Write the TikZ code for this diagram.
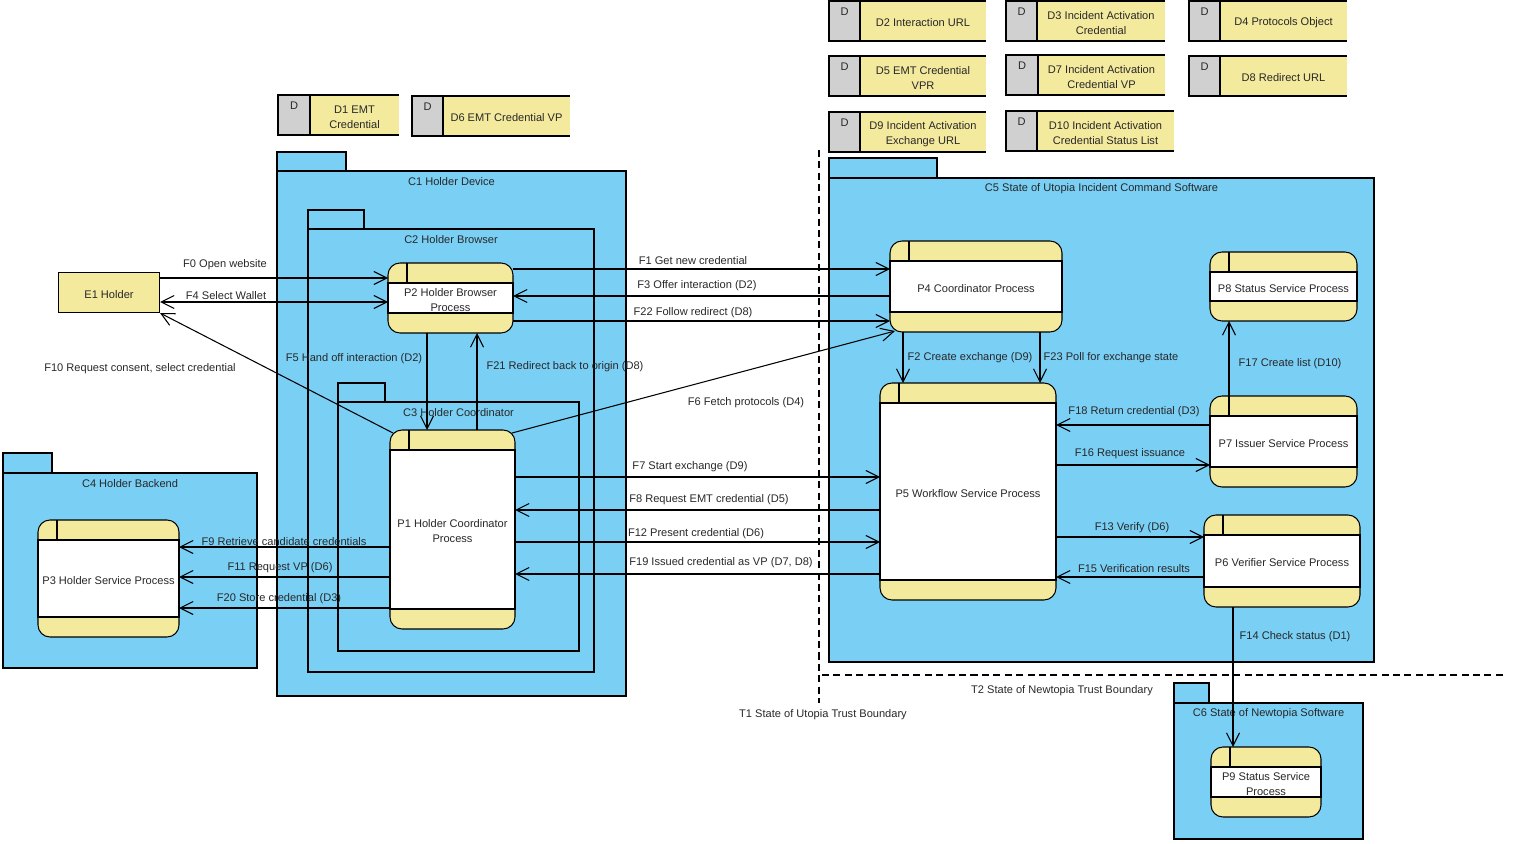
\documentclass[tikz,border=0pt]{standalone}
\usepackage{fontspec}
\setmainfont{Liberation Sans}
\usetikzlibrary{arrows.meta}
\definecolor{dfblue}{RGB}{122,207,245}
\definecolor{dfyel}{RGB}{244,234,158}
\definecolor{dfgray}{RGB}{208,208,208}
\definecolor{dftxt}{RGB}{40,40,40}
\newcommand\dffont{\fontsize{6.3}{8.5}\selectfont}
% process: name, x1, y1, x2, y2, text
\newcommand\proc[6]{%
  \node[pbox, minimum width={(#4-#2)*0.02cm}, minimum height={(#5-#3)*0.02cm}] (#1) at ({(#2+#4)/2},{(#3+#5)/2}) {};
  \draw[fill=white] (#2,#3+20) rectangle (#4,#5-20);
  \draw (#2+19,#3) -- (#2+19,#3+20);
  \node[lbl] (#1t) at (#1.center) {#6};
}
% container: name, x1, ytab, xtab, ytop, x2, y2, label
\newcommand\cont[8]{%
  \draw[contst] (#2,#3) rectangle (#4,#5);
  \draw[contst] (#2,#5) rectangle (#6,#7);
  \node[lbl] (#1) at ({(#2+#6)/2},#5+9) {#8};
}
% data store: name, x1, x2, x3, y1, y2, text
\newcommand\dstore[7]{%
  \fill[dfyel] (#3,#5) rectangle (#4,#6);
  \draw (#3,#5) -- (#4,#5) (#3,#6) -- (#4,#6);
  \draw[fill=dfgray] (#2,#5) rectangle (#3,#6);
  \node[lbl] (#1d) at ({(#2+#3)/2},#5+9) {D};
  \node[lbl] (#1) at ({(#3+#4)/2},{(#5+#6)/2}) {#7};
}
\begin{document}
\begin{tikzpicture}[x=0.02cm,y=-0.02cm,line width=0.6pt,
  font=\dffont,
  lbl/.style={inner sep=0pt,align=center,text=dftxt,yshift=-1.1pt},
  pbox/.style={draw,fill=dfyel,rounded corners=2.4mm,inner sep=0pt,outer sep=0pt},
  contst/.style={draw,fill=dfblue},
  flow/.style={draw,->},
  tb/.style={draw,dash pattern=on 4pt off 2.5pt},
  >={Straight Barb[length=2.6mm,width=2.6mm]}]
\useasboundingbox (0,0) rectangle (1514,844);

% data stores
\dstore{D1}{278}{310}{399}{95}{135}{D1 EMT\\Credential}
\dstore{D6}{412}{443}{570}{96}{136}{D6 EMT Credential VP}
\dstore{D2}{829}{860}{986}{1}{41}{D2 Interaction URL}
\dstore{D3}{1006}{1037}{1165}{1}{41}{D3 Incident Activation\\Credential}
\dstore{D4}{1189}{1220}{1347}{1}{41}{D4 Protocols Object}
\dstore{D5}{829}{860}{986}{56}{96}{D5 EMT Credential\\VPR}
\dstore{D7}{1006}{1038}{1165}{55}{95}{D7 Incident Activation\\Credential VP}
\dstore{D8}{1189}{1220}{1347}{56}{96}{D8 Redirect URL}
\dstore{D9}{829}{860}{986}{112}{152}{D9 Incident Activation\\Exchange URL}
\dstore{D10}{1006}{1037}{1174}{111}{151}{D10 Incident Activation\\Credential Status List}

% containers
\cont{C1}{277}{152}{346}{171}{626}{696}{C1 Holder Device}
\cont{C2}{308}{210}{364}{229}{594}{672}{C2 Holder Browser}
\cont{C3}{338}{383}{385}{402}{579}{651}{C3 Holder Coordinator}
\cont{C4}{3}{453}{52}{473}{257}{668}{C4 Holder Backend}
\cont{C5}{829}{158}{937}{178}{1374}{662}{C5 State of Utopia Incident Command Software}
\cont{C6}{1174}{683}{1209}{703}{1363}{839}{C6 State of Newtopia Software}

% trust boundaries
\coordinate (T1a) at (819,150);
\coordinate (T1b) at (819,703);
\coordinate (T2a) at (822,675);
\coordinate (T2b) at (1505,675);
\draw[tb] (T1a) -- (T1b);
\draw[tb] (T2a) -- (T2b);
\node[lbl] (T1) at (823,713) {T1 State of Utopia Trust Boundary};
\node[lbl] (T2) at (1062,689) {T2 State of Newtopia Trust Boundary};

% external entity
\node[draw,fill=dfyel,inner sep=0pt,minimum width={101*0.02cm},minimum height={40*0.02cm}] (E1) at (109,292.5) {};
\node[lbl] (E1t) at (E1.center) {E1 Holder};

% processes
\proc{P2}{388}{263}{513}{333}{P2 Holder Browser\\Process}
\proc{P4}{890}{241}{1062}{332}{P4 Coordinator Process}
\proc{P8}{1210}{252}{1357}{321}{P8 Status Service Process}
\proc{P5}{880}{383}{1056}{600}{P5 Workflow Service Process}
\proc{P7}{1210}{396}{1357}{487}{P7 Issuer Service Process}
\proc{P6}{1204}{515}{1360}{607}{P6 Verifier Service Process}
\proc{P1}{390}{430}{515}{629}{P1 Holder Coordinator\\Process}
\proc{P3}{38}{520}{179}{637}{P3 Holder Service Process}
\proc{P9}{1211}{747}{1321}{817}{P9 Status Service\\Process}

% flows
\draw[flow] (E1.east |- 0,278) -- (P2.west |- 0,278);
\draw[flow,<->] (E1.east |- 0,302) -- (P2.west |- 0,302);
\draw[flow] ([shift={(3,3)}]P1.north west) -- (E1.south east);
\draw[flow] (P2.east |- 0,269) -- (P4.west |- 0,269);
\draw[flow] (P4.west |- 0,296) -- (P2.east |- 0,296);
\draw[flow] (P2.east |- 0,321) -- (P4.west |- 0,321);
\draw[flow] ([shift={(-3,3)}]P1.north east) -- ([shift={(5,-1)}]P4.south west);
\draw[flow] (427,0 |- P2.south) -- (427,0 |- P1.north);
\draw[flow] (477,0 |- P1.north) -- (477,0 |- P2.south);
\draw[flow] (903,0 |- P4.south) -- (903,0 |- P5.north);
\draw[flow] (1040,0 |- P4.south) -- (1040,0 |- P5.north);
\draw[flow] (1229,0 |- P7.north) -- (1229,0 |- P8.south);
\draw[flow] (1233,0 |- P6.south) -- (1233,0 |- P9.north);
\draw[flow] (P1.east |- 0,477) -- (P5.west |- 0,477);
\draw[flow] (P5.west |- 0,510) -- (P1.east |- 0,510);
\draw[flow] (P1.east |- 0,542) -- (P5.west |- 0,542);
\draw[flow] (P5.west |- 0,574) -- (P1.east |- 0,574);
\draw[flow] (P1.west |- 0,547) -- (P3.east |- 0,547);
\draw[flow] (P1.west |- 0,577) -- (P3.east |- 0,577);
\draw[flow] (P1.west |- 0,608) -- (P3.east |- 0,608);
\draw[flow] (P7.west |- 0,425) -- (P5.east |- 0,425);
\draw[flow] (P5.east |- 0,465) -- (P7.west |- 0,465);
\draw[flow] (P5.east |- 0,537) -- (P6.west |- 0,537);
\draw[flow] (P6.west |- 0,577) -- (P5.east |- 0,577);

% flow labels
\node[lbl] (L0) at (225,263) {F0 Open website};
\node[lbl] (L4) at (226,294) {F4 Select Wallet};
\node[lbl] (L10) at (140,367) {F10 Request consent, select credential};
\node[lbl] (L5) at (354,357) {F5 Hand off interaction (D2)};
\node[lbl] (L21) at (565,365) {F21 Redirect back to origin (D8)};
\node[lbl] (L1) at (693,259) {F1 Get new credential};
\node[lbl] (L3) at (697,284) {F3 Offer interaction (D2)};
\node[lbl] (L22) at (693,311) {F22 Follow redirect (D8)};
\node[lbl] (L6) at (746,401) {F6 Fetch protocols (D4)};
\node[lbl] (L2) at (970,356) {F2 Create exchange (D9)};
\node[lbl] (L23) at (1111,356) {F23 Poll for exchange state};
\node[lbl] (L17) at (1290,362) {F17 Create list (D10)};
\node[lbl] (L18) at (1134,410) {F18 Return credential (D3)};
\node[lbl] (L16) at (1130,452) {F16 Request issuance};
\node[lbl] (L7) at (690,465) {F7 Start exchange (D9)};
\node[lbl] (L8) at (709,498) {F8 Request EMT credential (D5)};
\node[lbl] (L12) at (696,532) {F12 Present credential (D6)};
\node[lbl] (L19) at (721,561) {F19 Issued credential as VP (D7, D8)};
\node[lbl] (L13) at (1132,526) {F13 Verify (D6)};
\node[lbl] (L15) at (1134,567) {F15 Verification results};
\node[lbl] (L9) at (284,540) {F9 Retrieve candidate credentials};
\node[lbl] (L11) at (280,566) {F11 Request VP (D6)};
\node[lbl] (L20) at (279,597) {F20 Store credential (D3)};
\node[lbl] (L14) at (1295,635) {F14 Check status (D1)};
\end{tikzpicture}
\end{document}
